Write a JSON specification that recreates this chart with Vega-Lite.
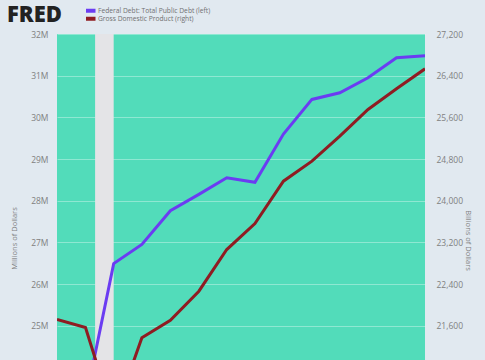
{
  "$schema": "https://vega.github.io/schema/vega-lite/v6.json",
  "autosize": "none",
  "padding": {"left": 57, "top": 34, "right": 60, "bottom": 0},
  "width": 368,
  "height": 326,
  "background": "#e1e9f0",
  "datasets": {
    "debt": [
      {"date": "2019-10-01", "series": "Federal Debt: Total Public Debt (left)", "value": 22900000},
      {"date": "2020-01-01", "series": "Federal Debt: Total Public Debt (left)", "value": 23200000},
      {"date": "2020-04-01", "series": "Federal Debt: Total Public Debt (left)", "value": 26490000},
      {"date": "2020-07-01", "series": "Federal Debt: Total Public Debt (left)", "value": 26950000},
      {"date": "2020-10-01", "series": "Federal Debt: Total Public Debt (left)", "value": 27760000},
      {"date": "2021-01-01", "series": "Federal Debt: Total Public Debt (left)", "value": 28150000},
      {"date": "2021-04-01", "series": "Federal Debt: Total Public Debt (left)", "value": 28550000},
      {"date": "2021-07-01", "series": "Federal Debt: Total Public Debt (left)", "value": 28440000},
      {"date": "2021-10-01", "series": "Federal Debt: Total Public Debt (left)", "value": 29600000},
      {"date": "2022-01-01", "series": "Federal Debt: Total Public Debt (left)", "value": 30430000},
      {"date": "2022-04-01", "series": "Federal Debt: Total Public Debt (left)", "value": 30590000},
      {"date": "2022-07-01", "series": "Federal Debt: Total Public Debt (left)", "value": 30950000},
      {"date": "2022-10-01", "series": "Federal Debt: Total Public Debt (left)", "value": 31430000},
      {"date": "2023-01-01", "series": "Federal Debt: Total Public Debt (left)", "value": 31480000}
    ],
    "gdp": [
      {"date": "2019-10-01", "series": "Gross Domestic Product (right)", "value": 21718},
      {"date": "2020-01-01", "series": "Gross Domestic Product (right)", "value": 21565},
      {"date": "2020-04-01", "series": "Gross Domestic Product (right)", "value": 19837},
      {"date": "2020-07-01", "series": "Gross Domestic Product (right)", "value": 21367},
      {"date": "2020-10-01", "series": "Gross Domestic Product (right)", "value": 21705},
      {"date": "2021-01-01", "series": "Gross Domestic Product (right)", "value": 22262},
      {"date": "2021-04-01", "series": "Gross Domestic Product (right)", "value": 23062},
      {"date": "2021-07-01", "series": "Gross Domestic Product (right)", "value": 23562},
      {"date": "2021-10-01", "series": "Gross Domestic Product (right)", "value": 24374},
      {"date": "2022-01-01", "series": "Gross Domestic Product (right)", "value": 24758},
      {"date": "2022-04-01", "series": "Gross Domestic Product (right)", "value": 25238},
      {"date": "2022-07-01", "series": "Gross Domestic Product (right)", "value": 25750},
      {"date": "2022-10-01", "series": "Gross Domestic Product (right)", "value": 26148},
      {"date": "2023-01-01", "series": "Gross Domestic Product (right)", "value": 26532}
    ],
    "recession": [
      {"start": "2020-02-01", "end": "2020-04-01"}
    ]
  },
  "layer": [
    {
      "data": {"name": "recession"},
      "mark": {"type": "rect", "color": "#e4e4e7"},
      "encoding": {
        "x": {"field": "start", "type": "temporal", "axis": null,
              "scale": {"domain": [{"year": 2019, "month": 10, "date": 1, "utc": true}, {"year": 2023, "month": 1, "date": 1, "utc": true}]}},
        "x2": {"field": "end"}
      }
    },
    {
      "data": {"name": "debt"},
      "mark": {"type": "line", "strokeWidth": 3, "clip": true},
      "encoding": {
        "x": {"field": "date", "type": "temporal", "axis": null},
        "y": {"field": "value", "type": "quantitative",
              "scale": {"domain": [24176000, 32000000], "zero": false, "nice": false},
              "axis": {"orient": "left", "title": "Millions of Dollars", "format": "~s",
                       "values": [25000000, 26000000, 27000000, 28000000, 29000000, 30000000, 31000000, 32000000],
                       "grid": true, "gridColor": "#ffffff", "gridOpacity": 0.35, "ticks": false, "domain": false,
                       "labelPadding": 9, "labelFontSize": 8.5, "labelColor": "#808080",
                       "titleFontSize": 7.5, "titleFontWeight": "normal", "titleColor": "#808080",
                       "titleX": -43, "titleY": 204, "titleAngle": -90, "titleAlign": "center", "titleBaseline": "middle"}},
        "color": {"field": "series", "type": "nominal",
                  "scale": {"domain": ["Federal Debt: Total Public Debt (left)", "Gross Domestic Product (right)"], "range": ["#6b3cf2", "#8f1c22"]},
                  "legend": {"title": "FRED"}}
      }
    },
    {
      "data": {"name": "gdp"},
      "mark": {"type": "line", "strokeWidth": 3, "clip": true},
      "encoding": {
        "x": {"field": "date", "type": "temporal", "axis": null},
        "y": {"field": "value", "type": "quantitative",
              "scale": {"domain": [20941, 27200], "zero": false, "nice": false},
              "axis": {"orient": "right", "title": "Billions of Dollars", "format": ",d",
                       "values": [21600, 22400, 23200, 24000, 24800, 25600, 26400, 27200],
                       "grid": false, "ticks": false, "domain": false,
                       "labelPadding": 11, "labelFontSize": 8.5, "labelColor": "#808080",
                       "titleFontSize": 7.5, "titleFontWeight": "normal", "titleColor": "#808080",
                       "titleX": 42, "titleY": 206, "titleAngle": 90, "titleAlign": "center", "titleBaseline": "middle"}},
        "color": {"field": "series", "type": "nominal"}
      }
    }
  ],
  "resolve": {"scale": {"y": "independent"}, "axis": {"y": "independent"}},
  "config": {
    "font": "Open Sans",
    "view": {"fill": "#52dcba", "stroke": null},
    "legend": {"orient": "none", "legendX": -50, "legendY": -27, "labelFontSize": 6.7, "labelColor": "#707070",
               "titleOrient": "left", "titleFontSize": 22, "titleFontWeight": 900, "titleColor": "#222222", "titlePadding": 24,
               "titleBaseline": "middle", "titleLimit": 200,
               "clipHeight": 7.6,
               "symbolType": "M-2.75,0L2.75,0", "symbolSize": 16, "symbolStrokeWidth": 4, "rowPadding": 0, "labelOffset": 4, "padding": 0}
  }
}
